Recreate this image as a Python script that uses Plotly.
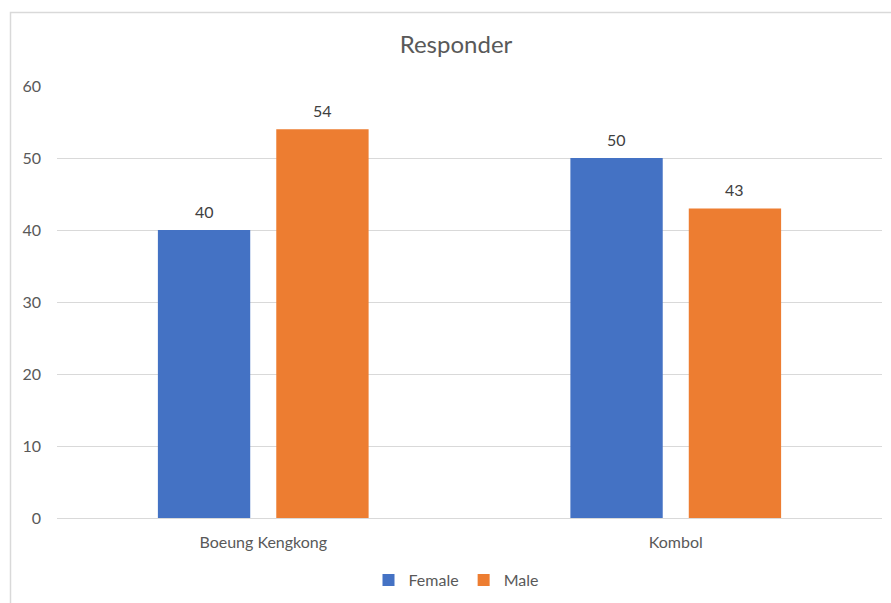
import plotly.graph_objects as go

# Survey respondents by location and gender
categories = ["Boeung Kengkong", "Kombol"]
female = [40, 50]
male = [54, 43]
y_ticks = [0, 10, 20, 30, 40, 50, 60]

W, H = 891, 603
L, R, T, B = 57, 9, 86, 85
plot_w = W - L - R
plot_h = H - T - B

font_family = "Lato, 'Open Sans', sans-serif"
text_grey = "#595959"
label_grey = "#404040"

BARGAP = 0.426
GROUPGAP = 0.22
slot_px = plot_w / len(categories) * (1 - BARGAP) / 2

fig = go.Figure()
series = [("Female", female, "#4472C4", -1), ("Male", male, "#ED7D31", 1)]
for name, vals, color, side in series:
    fig.add_trace(go.Bar(
        name=name, x=categories, y=vals, marker_color=color,
        marker_line_width=0,
    ))
    # value labels above each bar
    for cat, v in zip(categories, vals):
        fig.add_annotation(
            x=cat, y=v, text=str(v), showarrow=False,
            xshift=side * slot_px / 2, yshift=19, yanchor="middle",
            font=dict(size=16, color=label_grey, family=font_family),
        )

# outer chart border (left and top edges visible in frame)
fig.add_shape(
    type="rect", xref="paper", yref="paper",
    x0=(10.5 - L) / plot_w, x1=(W + 5 - L) / plot_w,
    y0=-(B + 10) / plot_h, y1=1 + (T - 12.5) / plot_h,
    line=dict(color="#D9D9D9", width=1.5), fillcolor="rgba(0,0,0,0)",
    layer="below",
)

fig.update_layout(
    width=W, height=H,
    margin=dict(l=L, r=R, t=T, b=B, pad=0, autoexpand=False),
    paper_bgcolor="white", plot_bgcolor="white",
    barmode="group", bargap=BARGAP, bargroupgap=GROUPGAP,
    title=dict(
        text="Responder", x=456 / W, xanchor="center",
        y=1 - 45 / H, yanchor="middle",
        font=dict(size=24, color=text_grey, family=font_family),
    ),
    font=dict(family=font_family, color=text_grey, size=16),
    showlegend=True,
    legend=dict(
        orientation="h", x=(456 - L) / plot_w, xanchor="center",
        y=-(580 - (H - B)) / plot_h, yanchor="middle",
        font=dict(size=16, color=text_grey, family=font_family),
        itemwidth=30, traceorder="normal",
    ),
    xaxis=dict(
        showgrid=False, showline=False, zeroline=False,
        ticks="", ticklabelstandoff=13, automargin=False,
        tickfont=dict(size=16, color=text_grey, family=font_family),
    ),
    yaxis=dict(
        range=[0, 60], tickvals=y_ticks, showgrid=True,
        gridcolor="#D9D9D9", gridwidth=1, zeroline=True,
        zerolinecolor="#D9D9D9", zerolinewidth=1, showline=False,
        ticks="", ticklabelstandoff=15, automargin=False,
        tickfont=dict(size=16, color=text_grey, family=font_family),
    ),
)

fig.write_html("out.html")
